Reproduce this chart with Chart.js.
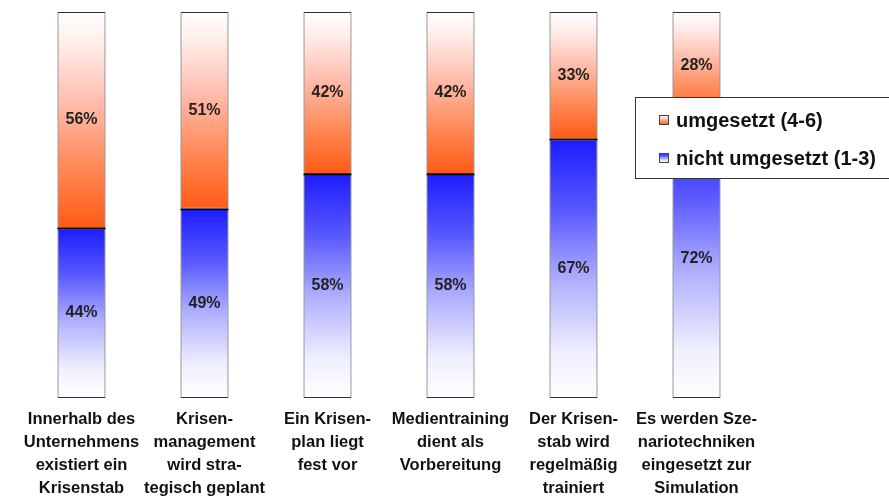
<!DOCTYPE html>
<html>
<head>
<meta charset="utf-8">
<script src="https://cdn.jsdelivr.net/npm/chart.js@4/dist/chart.umd.min.js"></script>
<style>
  html, body { margin: 0; padding: 0; background: #fff; }
  #wrap { width: 889px; height: 496px; position: relative; }
</style>
</head>
<body>
<div id="wrap"><canvas id="myChart"></canvas></div>
<script>
const categories = [
    ['Innerhalb des', 'Unternehmens', 'existiert ein', 'Krisenstab'],
    ['Krisen-', 'management', 'wird stra-', 'tegisch geplant'],
    ['Ein Krisen-', 'plan liegt', 'fest vor'],
    ['Medientraining', 'dient als', 'Vorbereitung'],
    ['Der Krisen-', 'stab wird', 'regelmäßig', 'trainiert'],
    ['Es werden Sze-', 'nariotechniken', 'eingesetzt zur', 'Simulation']
];
const nichtUmgesetzt = [44, 49, 58, 58, 67, 72];
const umgesetzt = [56, 51, 42, 42, 33, 28];
const seriesNames = ['nicht umgesetzt (1-3)', 'umgesetzt (4-6)'];

// colour stops, listed from the top of a segment to its bottom
const orangeStops = [[0, '#ffffff'], [0.14, '#ffeeea'], [0.42, '#ffbcac'], [0.7, '#ff8c5c'], [1, '#ff5a14']];
const blueStops = [[0, '#1c1cff'], [0.28, '#5a5aff'], [0.55, '#b0b0ff'], [0.82, '#eeeeff'], [1, '#ffffff']];

function makeGradient(ctx, yTop, yBottom, stops) {
    const g = ctx.createLinearGradient(0, yTop, 0, yBottom);
    stops.forEach(s => g.addColorStop(s[0], s[1]));
    return g;
}

// each stacked segment gets its own vertical gradient
function segmentFill(stops) {
    return function (context) {
        const chart = context.chart;
        const { ctx, chartArea, scales } = chart;
        if (!chartArea || context.type !== 'data') {
            return stops[stops.length - 1][1];
        }
        const i = context.dataIndex;
        const below = context.datasetIndex === 0 ? 0 : nichtUmgesetzt[i];
        const yBottom = scales.y.getPixelForValue(below);
        const yTop = scales.y.getPixelForValue(below + context.raw);
        return makeGradient(ctx, yTop, yBottom, stops);
    };
}

// percentage in the middle of every segment + dark line where the segments meet
const valueLabels = {
    id: 'valueLabels',
    afterDatasetsDraw(chart) {
        const ctx = chart.ctx;
        ctx.save();
        ctx.strokeStyle = '#000';
        ctx.lineWidth = 1.5;
        chart.getDatasetMeta(0).data.forEach(bar => {
            const y = Math.round(bar.y) + 0.5;
            ctx.beginPath();
            ctx.moveTo(bar.x - bar.width / 2, y);
            ctx.lineTo(bar.x + bar.width / 2, y);
            ctx.stroke();
        });

        ctx.font = 'bold 16px "Liberation Sans", Arial, sans-serif';
        ctx.fillStyle = '#222';
        ctx.textAlign = 'center';
        ctx.textBaseline = 'middle';
        chart.data.datasets.forEach((ds, d) => {
            chart.getDatasetMeta(d).data.forEach((bar, i) => {
                ctx.fillText(ds.data[i] + '%', bar.x, (bar.y + bar.base) / 2);
            });
        });
        ctx.restore();
    }
};

// boxed legend sitting over the right part of the plot
const boxLegend = {
    id: 'boxLegend',
    afterDraw(chart) {
        const ctx = chart.ctx;
        const x = 635.5, y = 97.5, w = 260, h = 81;
        ctx.save();
        ctx.fillStyle = '#fff';
        ctx.fillRect(x, y, w, h);
        ctx.strokeStyle = '#333';
        ctx.lineWidth = 1;
        ctx.strokeRect(x, y, w, h);

        const items = [
            { text: seriesNames[1], stops: orangeStops, cy: 120 },
            { text: seriesNames[0], stops: blueStops, cy: 158 }
        ];
        ctx.font = 'bold 20px "Liberation Sans", Arial, sans-serif';
        ctx.textBaseline = 'middle';
        ctx.textAlign = 'left';
        items.forEach(it => {
            const mx = 659.5, my = it.cy - 4.5;
            ctx.fillStyle = makeGradient(ctx, my, my + 9, it.stops);
            ctx.fillRect(mx, my, 9, 9);
            ctx.strokeStyle = '#444';
            ctx.strokeRect(mx, my, 9, 9);
            ctx.fillStyle = '#111';
            ctx.fillText(it.text, 676, it.cy + 1);
        });
        ctx.restore();
    }
};

new Chart(document.getElementById('myChart'), {
    type: 'bar',
    data: {
        labels: categories,
        datasets: [{
            label: seriesNames[0],
            data: nichtUmgesetzt,
            backgroundColor: segmentFill(blueStops),
            borderColor: '#333',
            borderWidth: 1,
            borderSkipped: false
        }, {
            label: seriesNames[1],
            data: umgesetzt,
            backgroundColor: segmentFill(orangeStops),
            borderColor: '#333',
            borderWidth: 1,
            borderSkipped: false
        }]
    },
    options: {
        responsive: true,
        maintainAspectRatio: false,
        animation: false,
        categoryPercentage: 1,
        barPercentage: 0.39,
        layout: {
            padding: { left: 20, right: 131, top: 12, bottom: 0 }
        },
        scales: {
            x: {
                stacked: true,
                grid: { display: false },
                border: { display: false },
                ticks: {
                    maxRotation: 0,
                    autoSkip: false,
                    padding: 2,
                    color: '#111',
                    font: { family: '"Liberation Sans", Arial, sans-serif', size: 16.5, weight: 'bold', lineHeight: 1.4 }
                },
                afterFit(scale) { scale.height = 98; }
            },
            y: {
                stacked: true,
                display: false,
                min: 0,
                max: 100
            }
        },
        plugins: {
            legend: false,
            tooltip: { enabled: false }
        }
    },
    plugins: [valueLabels, boxLegend]
});
</script>
</body>
</html>
